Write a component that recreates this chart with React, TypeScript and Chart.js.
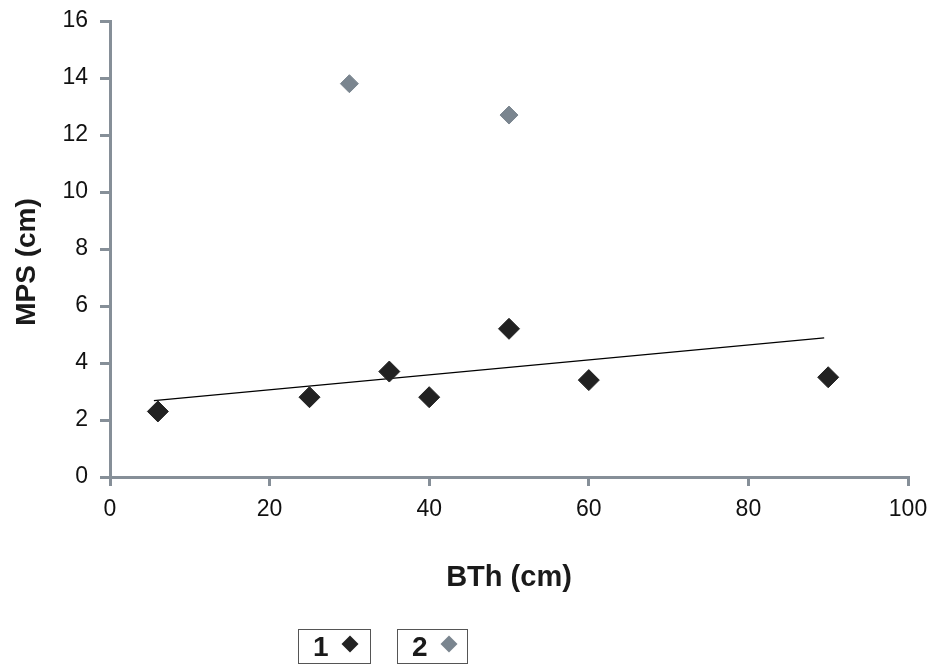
import React, { useEffect, useRef } from "react";
import { Chart, registerables } from "chart.js";

Chart.register(...registerables);

const series1Label = "1";
const series1X = [6, 25, 35, 40, 50, 60, 90];
const series1Y = [2.3, 2.8, 3.7, 2.8, 5.2, 3.4, 3.5];
const series2Label = "2";
const series2X = [30, 50];
const series2Y = [13.8, 12.7];
const trendX = [5.5, 89.5];
const trendY = [2.68, 4.88];
const xTitle = "BTh (cm)";
const yTitle = "MPS (cm)";

const AXIS = "#868f98";
const FONT = "'Liberation Sans', Arial, sans-serif";

const legendPlugin = {
  id: "boxLegend",
  afterDraw(chart: any) {
    const ctx = chart.ctx;
    const items = [
      { ds: chart.data.datasets[0], left: 298, width: 72 },
      { ds: chart.data.datasets[1], left: 397, width: 70 },
    ];
    ctx.save();
    items.forEach((it) => {
      const top = 629;
      const h = 34;
      ctx.strokeStyle = "#555";
      ctx.lineWidth = 1;
      ctx.strokeRect(it.left + 0.5, top + 0.5, it.width, h);
      ctx.fillStyle = "#1a1a1a";
      ctx.font = `bold 28px ${FONT}`;
      ctx.textBaseline = "middle";
      ctx.textAlign = "left";
      ctx.fillText(it.ds.label, it.left + 15, top + h / 2 + 2);
      const cx = it.left + 52;
      const cy = top + h / 2 - 2;
      const r = 8.5;
      ctx.fillStyle = it.ds.backgroundColor;
      ctx.beginPath();
      ctx.moveTo(cx, cy - r);
      ctx.lineTo(cx + r, cy);
      ctx.lineTo(cx, cy + r);
      ctx.lineTo(cx - r, cy);
      ctx.closePath();
      ctx.fill();
    });
    // y-axis title, slightly below the plot's vertical centre as in the reference
    const area = chart.chartArea;
    ctx.translate(27, (area.top + area.bottom) / 2 + 13);
    ctx.rotate(-Math.PI / 2);
    ctx.fillStyle = "#1a1a1a";
    ctx.font = `bold 28px ${FONT}`;
    ctx.textAlign = "center";
    ctx.textBaseline = "middle";
    ctx.fillText(yTitle, 0, 0);
    ctx.restore();
  },
};

export default function App() {
  const ref = useRef<HTMLCanvasElement>(null);
  useEffect(() => {
    document.body.style.margin = "0";
    const chart = new Chart(ref.current!, {
      type: "scatter",
      data: {
        datasets: [
          {
            label: series1Label,
            data: series1X.map((x, i) => ({ x, y: series1Y[i] })),
            backgroundColor: "#222222",
            borderColor: "#222222",
            pointStyle: "rectRot",
            pointRadius: 10.5,
            pointHoverRadius: 10.5,
          },
          {
            label: series2Label,
            data: series2X.map((x, i) => ({ x, y: series2Y[i] })),
            backgroundColor: "#7a858f",
            borderColor: "#7a858f",
            pointStyle: "rectRot",
            pointRadius: 9,
            pointHoverRadius: 9,
          },
          {
            label: "trend",
            data: trendX.map((x, i) => ({ x, y: trendY[i] })),
            showLine: true,
            borderColor: "#000000",
            borderWidth: 1.2,
            pointRadius: 0,
            pointHoverRadius: 0,
          } as any,
        ],
      },
      options: {
        animation: false,
        responsive: false,
        devicePixelRatio: 1,
        layout: { padding: { left: 0, right: 23, top: 21, bottom: 70 } },
        plugins: {
          legend: { display: false },
          tooltip: { enabled: false },
        },
        scales: {
          x: {
            type: "linear",
            min: 0,
            max: 100,
            afterFit: (s: any) => {
              s.height = 118;
              s.paddingLeft = 0;
              s.paddingRight = 0;
            },
            ticks: {
              stepSize: 20,
              color: "#111",
              font: { family: FONT, size: 23 },
              padding: 10,
            },
            grid: {
              display: true,
              drawOnChartArea: false,
              drawTicks: true,
              tickLength: 9,
              color: AXIS,
              lineWidth: 3,
            },
            border: { display: true, color: AXIS, width: 3 },
            title: {
              display: true,
              text: xTitle,
              color: "#1a1a1a",
              font: { family: FONT, size: 29, weight: "bold" },
              padding: { top: 0, bottom: 0 },
            },
          },
          y: {
            type: "linear",
            min: 0,
            max: 16,
            afterFit: (s: any) => {
              s.width = 110;
              s.paddingTop = 0;
              s.paddingBottom = 0;
            },
            ticks: {
              stepSize: 2,
              color: "#111",
              font: { family: FONT, size: 23 },
              padding: 12,
            },
            grid: {
              display: true,
              drawOnChartArea: false,
              drawTicks: true,
              tickLength: 10,
              color: AXIS,
              lineWidth: 3,
            },
            border: { display: true, color: AXIS, width: 3 },
            title: { display: false },
          },
        },
      },
      plugins: [legendPlugin],
    });
    return () => chart.destroy();
  }, []);
  return <canvas ref={ref} width={931} height={665} style={{ display: "block" }} />;
}
